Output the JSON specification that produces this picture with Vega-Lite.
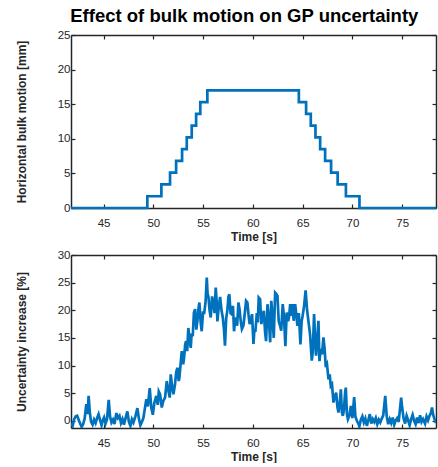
{
  "$schema": "https://vega.github.io/schema/vega-lite/v6.json",
  "padding": {"left": 15, "top": 6, "right": 0, "bottom": 0},
  "title": {"text": "Effect of bulk motion on GP uncertainty", "fontSize": 18.5, "font": "Liberation Sans", "fontWeight": "bold", "color": "#000000", "anchor": "middle", "offset": 4, "dx": 16},
  "config": {
    "view": {"stroke": null},
    "axis": {"labelFont": "Liberation Sans", "labelFontSize": 11.5, "labelColor": "#262626", "titleFont": "Liberation Sans", "titleFontSize": 12, "titleFontWeight": "bold", "titleColor": "#262626", "domainColor": "#262626", "domainWidth": 1.5, "tickColor": "#262626", "tickWidth": 1.2, "tickSize": -4, "grid": false},
    "axisX": {"labelPadding": 13, "titlePadding": 3},
    "axisY": {"labelPadding": 5, "titlePadding": 29},
    "line": {"color": "#0072BD", "strokeWidth": 2.7}
  },
  "spacing": 6,
  "vconcat": [
    {
      "width": 365, "height": 173,
      "data": {"values": [
        {"t": 41.73, "mm": 0}, {"t": 49.4, "mm": 1.7}, {"t": 50.81, "mm": 3.4}, {"t": 51.68, "mm": 5.1}, {"t": 52.29, "mm": 6.8}, {"t": 52.89, "mm": 8.5}, {"t": 53.36, "mm": 10.2}, {"t": 53.86, "mm": 11.9}, {"t": 54.3, "mm": 13.6}, {"t": 54.72, "mm": 15.3}, {"t": 55.43, "mm": 17.0}, {"t": 64.62, "mm": 15.3}, {"t": 65.35, "mm": 13.6}, {"t": 65.82, "mm": 11.9}, {"t": 66.29, "mm": 10.2}, {"t": 66.76, "mm": 8.5}, {"t": 67.26, "mm": 6.8}, {"t": 67.86, "mm": 5.1}, {"t": 68.52, "mm": 3.4}, {"t": 69.35, "mm": 1.7}, {"t": 70.71, "mm": 0}, {"t": 78.4, "mm": 0}
      ]},
      "resolve": {"axis": {"x": "independent", "y": "independent"}},
      "layer": [
        {
          "mark": {"type": "line", "interpolate": "step-after", "clip": false},
          "encoding": {
            "x": {"field": "t", "type": "quantitative", "scale": {"domain": [41.73, 78.4], "nice": false, "zero": false}, "axis": {"orient": "bottom", "values": [45, 50, 55, 60, 65, 70, 75], "title": "Time [s]"}},
            "y": {"field": "mm", "type": "quantitative", "scale": {"domain": [0, 25], "nice": false}, "axis": {"orient": "left", "values": [0, 5, 10, 15, 20, 25], "title": "Horizontal bulk motion [mm]"}}
          }
        },
        {
          "mark": {"type": "line", "strokeOpacity": 0},
          "encoding": {
            "x": {"field": "t", "type": "quantitative", "axis": {"orient": "top", "values": [45, 50, 55, 60, 65, 70, 75], "labels": false, "title": null}},
            "y": {"field": "mm", "type": "quantitative", "axis": {"orient": "right", "values": [0, 5, 10, 15, 20, 25], "labels": false, "title": null}}
          }
        }
      ]
    },
    {
      "width": 365, "height": 173,
      "data": {"values": [
        {"t": 41.75, "u": -0.4}, {"t": 41.9, "u": -0.9}, {"t": 42.05, "u": 0.3}, {"t": 42.2, "u": 0.8}, {"t": 42.35, "u": 0.9}, {"t": 42.5, "u": 0.2}, {"t": 42.65, "u": -0.5}, {"t": 42.8, "u": -1.1}, {"t": 42.95, "u": -0.6}, {"t": 43.1, "u": 0.4}, {"t": 43.27, "u": 3.0}, {"t": 43.4, "u": 1.2}, {"t": 43.5, "u": 4.5}, {"t": 43.62, "u": 1.5}, {"t": 43.75, "u": -0.2}, {"t": 43.9, "u": -0.7}, {"t": 44.05, "u": 0.2}, {"t": 44.2, "u": -0.4}, {"t": 44.35, "u": 0.5}, {"t": 44.5, "u": 1.2}, {"t": 44.65, "u": 0.1}, {"t": 44.8, "u": -0.8}, {"t": 44.95, "u": 0.2}, {"t": 45.05, "u": 0.6}, {"t": 45.2, "u": -0.5}, {"t": 45.35, "u": 0.3}, {"t": 45.52, "u": 3.8}, {"t": 45.65, "u": 0.8}, {"t": 45.8, "u": -0.3}, {"t": 45.95, "u": 0.2}, {"t": 46.1, "u": -0.6}, {"t": 46.29, "u": 1.4}, {"t": 46.45, "u": 0.5}, {"t": 46.6, "u": 0.9}, {"t": 46.75, "u": -0.4}, {"t": 46.9, "u": 0.3}, {"t": 47.05, "u": -0.7}, {"t": 47.2, "u": 0.4}, {"t": 47.39, "u": 1.7}, {"t": 47.55, "u": -0.2}, {"t": 47.7, "u": -0.9}, {"t": 47.85, "u": 0.3}, {"t": 48.0, "u": -0.3}, {"t": 48.2, "u": 0.8}, {"t": 48.4, "u": 2.3}, {"t": 48.55, "u": 0.4}, {"t": 48.7, "u": -0.8}, {"t": 48.85, "u": -0.2}, {"t": 49.0, "u": 0.5}, {"t": 49.15, "u": 2.2}, {"t": 49.3, "u": 3.9}, {"t": 49.45, "u": 2.6}, {"t": 49.64, "u": 5.9}, {"t": 49.8, "u": 2.3}, {"t": 49.95, "u": 1.1}, {"t": 50.1, "u": 3.2}, {"t": 50.3, "u": 4.5}, {"t": 50.45, "u": 2.9}, {"t": 50.55, "u": 5.3}, {"t": 50.68, "u": 4.8}, {"t": 50.85, "u": 2.4}, {"t": 51.0, "u": 3.6}, {"t": 51.18, "u": 4.2}, {"t": 51.35, "u": 7.2}, {"t": 51.52, "u": 5.4}, {"t": 51.65, "u": 4.2}, {"t": 51.75, "u": 8.4}, {"t": 51.9, "u": 6.0}, {"t": 52.02, "u": 4.8}, {"t": 52.18, "u": 6.6}, {"t": 52.3, "u": 8.8}, {"t": 52.42, "u": 9.6}, {"t": 52.55, "u": 7.2}, {"t": 52.62, "u": 7.8}, {"t": 52.75, "u": 10.5}, {"t": 52.86, "u": 12.6}, {"t": 53.0, "u": 10.2}, {"t": 53.09, "u": 11.4}, {"t": 53.2, "u": 13.8}, {"t": 53.29, "u": 14.4}, {"t": 53.4, "u": 12.6}, {"t": 53.52, "u": 16.8}, {"t": 53.65, "u": 14.5}, {"t": 53.76, "u": 13.2}, {"t": 53.85, "u": 15.8}, {"t": 53.96, "u": 15.3}, {"t": 54.08, "u": 19.6}, {"t": 54.2, "u": 20.2}, {"t": 54.32, "u": 16.5}, {"t": 54.43, "u": 18.1}, {"t": 54.55, "u": 20.5}, {"t": 54.63, "u": 21.4}, {"t": 54.75, "u": 18.0}, {"t": 54.86, "u": 16.2}, {"t": 55.0, "u": 19.8}, {"t": 55.1, "u": 19.3}, {"t": 55.25, "u": 21.5}, {"t": 55.37, "u": 25.9}, {"t": 55.45, "u": 23.0}, {"t": 55.54, "u": 22.4}, {"t": 55.65, "u": 20.0}, {"t": 55.77, "u": 18.7}, {"t": 55.9, "u": 22.5}, {"t": 56.04, "u": 21.1}, {"t": 56.15, "u": 19.5}, {"t": 56.27, "u": 24.1}, {"t": 56.35, "u": 22.0}, {"t": 56.44, "u": 18.0}, {"t": 56.58, "u": 20.8}, {"t": 56.71, "u": 22.4}, {"t": 56.85, "u": 20.0}, {"t": 56.98, "u": 18.7}, {"t": 57.1, "u": 16.5}, {"t": 57.2, "u": 13.6}, {"t": 57.32, "u": 18.5}, {"t": 57.44, "u": 20.0}, {"t": 57.55, "u": 22.5}, {"t": 57.64, "u": 22.9}, {"t": 57.76, "u": 19.5}, {"t": 57.88, "u": 19.3}, {"t": 58.0, "u": 20.8}, {"t": 58.11, "u": 16.2}, {"t": 58.2, "u": 18.0}, {"t": 58.31, "u": 18.7}, {"t": 58.42, "u": 17.2}, {"t": 58.55, "u": 21.4}, {"t": 58.66, "u": 20.2}, {"t": 58.78, "u": 18.1}, {"t": 58.9, "u": 16.6}, {"t": 59.05, "u": 17.2}, {"t": 59.2, "u": 19.6}, {"t": 59.32, "u": 21.7}, {"t": 59.45, "u": 21.4}, {"t": 59.56, "u": 19.3}, {"t": 59.68, "u": 17.5}, {"t": 59.79, "u": 18.1}, {"t": 59.92, "u": 19.3}, {"t": 60.06, "u": 13.9}, {"t": 60.15, "u": 16.3}, {"t": 60.26, "u": 16.3}, {"t": 60.4, "u": 19.5}, {"t": 60.5, "u": 17.8}, {"t": 60.59, "u": 22.3}, {"t": 60.73, "u": 22.0}, {"t": 60.85, "u": 17.5}, {"t": 61.0, "u": 19.0}, {"t": 61.1, "u": 19.9}, {"t": 61.23, "u": 16.0}, {"t": 61.33, "u": 14.4}, {"t": 61.47, "u": 21.1}, {"t": 61.6, "u": 18.7}, {"t": 61.74, "u": 14.2}, {"t": 61.85, "u": 21.7}, {"t": 61.97, "u": 19.0}, {"t": 62.1, "u": 15.0}, {"t": 62.24, "u": 23.2}, {"t": 62.34, "u": 23.0}, {"t": 62.47, "u": 22.6}, {"t": 62.6, "u": 18.0}, {"t": 62.74, "u": 17.2}, {"t": 62.85, "u": 16.3}, {"t": 63.0, "u": 21.1}, {"t": 63.12, "u": 19.0}, {"t": 63.27, "u": 13.5}, {"t": 63.4, "u": 19.6}, {"t": 63.55, "u": 18.0}, {"t": 63.65, "u": 19.0}, {"t": 63.75, "u": 21.1}, {"t": 63.88, "u": 19.0}, {"t": 63.99, "u": 21.1}, {"t": 64.1, "u": 18.1}, {"t": 64.25, "u": 21.1}, {"t": 64.38, "u": 19.0}, {"t": 64.48, "u": 17.2}, {"t": 64.62, "u": 19.5}, {"t": 64.78, "u": 13.8}, {"t": 64.9, "u": 18.0}, {"t": 65.0, "u": 19.0}, {"t": 65.15, "u": 20.8}, {"t": 65.3, "u": 23.6}, {"t": 65.45, "u": 20.0}, {"t": 65.6, "u": 17.8}, {"t": 65.75, "u": 15.6}, {"t": 65.92, "u": 10.9}, {"t": 66.02, "u": 12.5}, {"t": 66.15, "u": 19.3}, {"t": 66.28, "u": 14.0}, {"t": 66.35, "u": 11.8}, {"t": 66.48, "u": 15.0}, {"t": 66.59, "u": 18.1}, {"t": 66.69, "u": 10.8}, {"t": 66.82, "u": 13.0}, {"t": 66.95, "u": 12.0}, {"t": 67.09, "u": 15.1}, {"t": 67.2, "u": 13.2}, {"t": 67.33, "u": 9.7}, {"t": 67.45, "u": 10.2}, {"t": 67.6, "u": 7.5}, {"t": 67.72, "u": 8.4}, {"t": 67.83, "u": 6.3}, {"t": 67.95, "u": 6.6}, {"t": 68.1, "u": 3.3}, {"t": 68.2, "u": 4.2}, {"t": 68.37, "u": 5.1}, {"t": 68.5, "u": 2.5}, {"t": 68.6, "u": 1.5}, {"t": 68.72, "u": 3.0}, {"t": 68.84, "u": 5.7}, {"t": 68.95, "u": 1.5}, {"t": 69.04, "u": 0.9}, {"t": 69.15, "u": 2.0}, {"t": 69.27, "u": 5.1}, {"t": 69.34, "u": 6.0}, {"t": 69.45, "u": 1.2}, {"t": 69.55, "u": 0.3}, {"t": 69.7, "u": 1.0}, {"t": 69.85, "u": 2.7}, {"t": 70.0, "u": 0.5}, {"t": 70.18, "u": 4.3}, {"t": 70.3, "u": 0.8}, {"t": 70.45, "u": 0.0}, {"t": 70.6, "u": -0.5}, {"t": 70.7, "u": -1.0}, {"t": 70.85, "u": 0.2}, {"t": 71.0, "u": 0.8}, {"t": 71.15, "u": -0.3}, {"t": 71.3, "u": 0.4}, {"t": 71.45, "u": -0.9}, {"t": 71.6, "u": 0.1}, {"t": 71.75, "u": 1.2}, {"t": 71.9, "u": -0.5}, {"t": 72.05, "u": 0.3}, {"t": 72.2, "u": -0.2}, {"t": 72.35, "u": 0.5}, {"t": 72.5, "u": -0.6}, {"t": 72.65, "u": 0.2}, {"t": 72.8, "u": -0.3}, {"t": 72.95, "u": 0.4}, {"t": 73.1, "u": 1.0}, {"t": 73.3, "u": 4.5}, {"t": 73.45, "u": 0.8}, {"t": 73.6, "u": -0.6}, {"t": 73.75, "u": 0.3}, {"t": 73.9, "u": -0.4}, {"t": 74.05, "u": 0.6}, {"t": 74.2, "u": -0.7}, {"t": 74.35, "u": 0.1}, {"t": 74.5, "u": 0.5}, {"t": 74.65, "u": -0.2}, {"t": 74.9, "u": 4.2}, {"t": 75.0, "u": 2.4}, {"t": 75.15, "u": 0.4}, {"t": 75.3, "u": -0.5}, {"t": 75.45, "u": 0.9}, {"t": 75.6, "u": 0.1}, {"t": 75.75, "u": -0.8}, {"t": 75.9, "u": 0.3}, {"t": 76.05, "u": 1.1}, {"t": 76.2, "u": 0.0}, {"t": 76.35, "u": -0.6}, {"t": 76.5, "u": 0.6}, {"t": 76.65, "u": -0.4}, {"t": 76.8, "u": 1.0}, {"t": 76.95, "u": -0.2}, {"t": 77.1, "u": 0.3}, {"t": 77.3, "u": -0.5}, {"t": 77.45, "u": 0.8}, {"t": 77.6, "u": 0.1}, {"t": 77.75, "u": 0.9}, {"t": 77.9, "u": 1.5}, {"t": 78.0, "u": 2.4}, {"t": 78.1, "u": 1.2}, {"t": 78.25, "u": 0.3}, {"t": 78.4, "u": -0.4}
      ]},
      "resolve": {"axis": {"x": "independent", "y": "independent"}},
      "layer": [
        {
          "mark": {"type": "line", "clip": true},
          "encoding": {
            "x": {"field": "t", "type": "quantitative", "scale": {"domain": [41.73, 78.4], "nice": false, "zero": false}, "axis": {"orient": "bottom", "values": [45, 50, 55, 60, 65, 70, 75], "title": "Time [s]"}},
            "y": {"field": "u", "type": "quantitative", "scale": {"domain": [-1.3, 30], "nice": false, "zero": false}, "axis": {"orient": "left", "values": [0, 5, 10, 15, 20, 25, 30], "title": "Uncertainty increase [%]"}}
          }
        },
        {
          "mark": {"type": "line", "strokeOpacity": 0},
          "encoding": {
            "x": {"field": "t", "type": "quantitative", "axis": {"orient": "top", "values": [45, 50, 55, 60, 65, 70, 75], "labels": false, "title": null}},
            "y": {"field": "u", "type": "quantitative", "axis": {"orient": "right", "values": [0, 5, 10, 15, 20, 25, 30], "labels": false, "title": null}}
          }
        }
      ]
    }
  ]
}
